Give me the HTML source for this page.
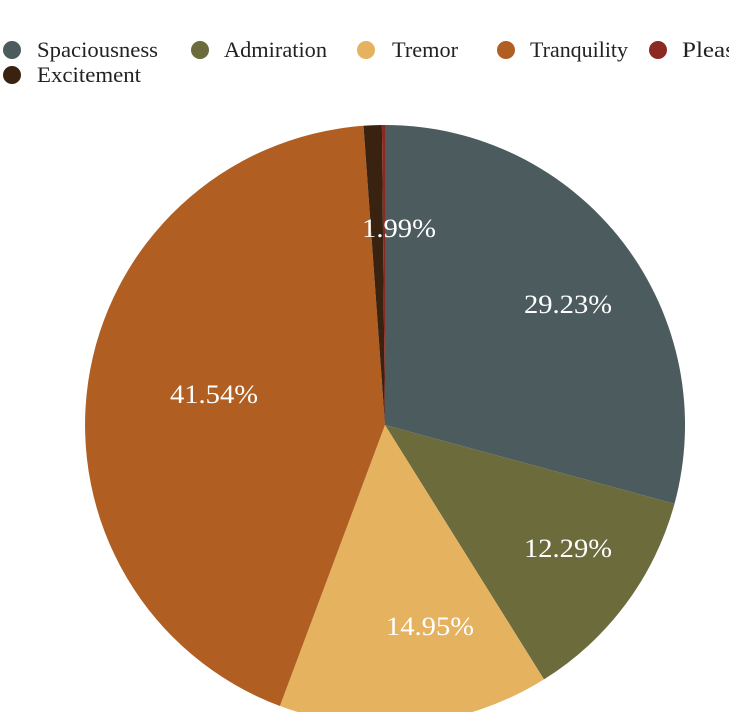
<!DOCTYPE html>
<html><head><style>
html,body{margin:0;padding:0;background:#fff;width:729px;height:712px;overflow:hidden}
svg{display:block}
text{font-family:"Liberation Serif",serif}
</style></head><body>
<svg width="729" height="712" viewBox="0 0 729 712">
<g font-size="22" fill="#222">
<circle cx="12" cy="50" r="9" fill="#4b5b5e"/><text x="37" y="57" textLength="121" lengthAdjust="spacingAndGlyphs">Spaciousness</text>
<circle cx="200" cy="50" r="9" fill="#6b6b3c"/><text x="224" y="57" textLength="103" lengthAdjust="spacingAndGlyphs">Admiration</text>
<circle cx="366" cy="50" r="9" fill="#e5b35f"/><text x="392" y="57" textLength="66" lengthAdjust="spacingAndGlyphs">Tremor</text>
<circle cx="506" cy="50" r="9" fill="#b05e22"/><text x="530" y="57" textLength="98" lengthAdjust="spacingAndGlyphs">Tranquility</text>
<circle cx="658" cy="50" r="9" fill="#8b2a22"/><text x="682" y="57" textLength="85" lengthAdjust="spacingAndGlyphs">Pleasure</text>
<circle cx="12" cy="75" r="9" fill="#3a2210"/><text x="37" y="82" textLength="104" lengthAdjust="spacingAndGlyphs">Excitement</text>
</g>
<g stroke="none">
<path d="M385,425 L385,125 A300,300 0 0 1 674.5,503.7 Z" fill="#4b5b5e"/>
<path d="M385,425 L674.5,503.7 A300,300 0 0 1 544,679.4 Z" fill="#6b6b3c"/>
<path d="M385,425 L544,679.4 A300,300 0 0 1 279.9,706 Z" fill="#e5b35f"/>
<path d="M385,425 L279.9,706 A300,300 0 0 1 363.5,125.8 Z" fill="#b05e22"/>
<path d="M385,425 L363.5,125.8 A300,300 0 0 1 381.9,125 Z" fill="#3a2210"/>
<path d="M385,425 L381.9,125 A300,300 0 0 1 385,125 Z" fill="#8b2a22"/>
</g>
<g font-size="26" fill="#fff" text-anchor="middle">
<text x="568" y="313" textLength="88" lengthAdjust="spacingAndGlyphs">29.23%</text>
<text x="568" y="557" textLength="88" lengthAdjust="spacingAndGlyphs">12.29%</text>
<text x="430" y="635" textLength="88" lengthAdjust="spacingAndGlyphs">14.95%</text>
<text x="214" y="403" textLength="88" lengthAdjust="spacingAndGlyphs">41.54%</text>
<text x="399" y="237" textLength="74" lengthAdjust="spacingAndGlyphs">1.99%</text>
</g>
</svg>
</body></html>
